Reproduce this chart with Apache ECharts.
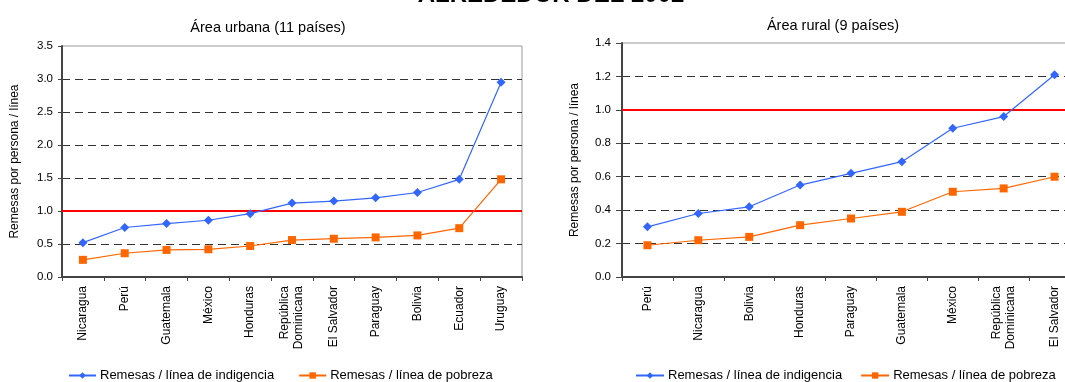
<!DOCTYPE html>
<html>
<head>
<meta charset="utf-8">
<script src="https://cdn.jsdelivr.net/npm/echarts@6/dist/echarts.min.js"></script>
<style>
html,body{margin:0;padding:0;background:#fff;overflow:hidden;}
#c{width:1080px;height:382px;}
</style>
</head>
<body>
<div id="c"></div>
<script>
var mainTitle = 'ALREDEDOR DEL 2002';
var urbanTitle = 'Área urbana (11 países)';
var ruralTitle = 'Área rural (9 países)';
var yName = 'Remesas por persona / línea';
var seriesNames = ['Remesas / línea de indigencia', 'Remesas / línea de pobreza'];

var urbanCats = ['Nicaragua', 'Perú', 'Guatemala', 'México', 'Honduras', 'República\nDominicana', 'El Salvador', 'Paraguay', 'Bolivia', 'Ecuador', 'Uruguay'];
var urbanIndig = [0.52, 0.75, 0.81, 0.86, 0.96, 1.12, 1.15, 1.20, 1.28, 1.48, 2.95];
var urbanPobreza = [0.26, 0.36, 0.41, 0.42, 0.47, 0.56, 0.58, 0.60, 0.63, 0.74, 1.48];

var ruralCats = ['Perú', 'Nicaragua', 'Bolivia', 'Honduras', 'Paraguay', 'Guatemala', 'México', 'República\nDominicana', 'El Salvador'];
var ruralIndig = [0.30, 0.38, 0.42, 0.55, 0.62, 0.69, 0.89, 0.96, 1.21];
var ruralPobreza = [0.19, 0.22, 0.24, 0.31, 0.35, 0.39, 0.51, 0.53, 0.60];

var urbanAxis = {min: 0, max: 3.5, interval: 0.5};
var ruralAxis = {min: 0, max: 1.4, interval: 0.2};
var threshold = 1.0;

var FONT = '"Liberation Sans", Arial, sans-serif';
var BLUE = '#3366ff';
var ORANGE = '#ff6600';

function gridColors(ax) {
  var cols = [];
  var n = Math.round((ax.max - ax.min) / ax.interval);
  for (var i = 0; i <= n; i++) {
    var v = ax.min + i * ax.interval;
    if (i === 0 || i === n || Math.abs(v - threshold) < 1e-9) cols.push('rgba(0,0,0,0)');
    else cols.push('#333');
  }
  return cols;
}

function yAxisDef(gi, ax, tickLen, margin) {
  return {
    type: 'value', gridIndex: gi, min: ax.min, max: ax.max, interval: ax.interval,
    name: yName, nameLocation: 'middle', nameGap: 41, nameRotate: 90,
    nameTextStyle: {fontFamily: FONT, fontSize: 12, color: '#000'},
    axisLine: {show: true, lineStyle: {color: '#444', width: 2}},
    axisTick: {show: true, length: tickLen, lineStyle: {color: '#444', width: 1}},
    axisLabel: {fontFamily: FONT, fontSize: 11.5, color: '#000', margin: margin,
      formatter: function (v) { return v.toFixed(1); }},
    splitLine: {show: true, lineStyle: {color: gridColors(ax), type: [8, 5], width: 1}}
  };
}

function xAxisDef(gi, cats) {
  return {
    type: 'category', gridIndex: gi, data: cats, boundaryGap: true,
    axisLine: {show: true, lineStyle: {color: '#444', width: 2}},
    axisTick: {show: true, length: 4, alignWithLabel: false, lineStyle: {color: '#444', width: 1}},
    axisLabel: {rotate: 90, interval: 0, fontFamily: FONT, fontSize: 12, color: '#000', margin: 9, lineHeight: 14}
  };
}

function lineSeries(name, gi, data, color, symbol, size, withMark) {
  var s = {
    name: name, type: 'line', xAxisIndex: gi, yAxisIndex: gi, data: data,
    symbol: symbol, symbolSize: size, showAllSymbol: true,
    lineStyle: {color: color, width: 1.2},
    itemStyle: {color: color},
    animation: false, z: 5
  };
  if (withMark) {
    s.markLine = {
      silent: true, symbol: 'none', label: {show: false},
      lineStyle: {color: '#ff0000', width: 2, type: 'solid'},
      data: [{yAxis: threshold}], animation: false
    };
  }
  return s;
}

var chart = echarts.init(document.getElementById('c'), null, {renderer: 'canvas'});
chart.setOption({
  backgroundColor: '#fff',
  animation: false,
  graphic: [{
    type: 'text', x: 551, y: -5,
    style: {text: mainTitle, font: 'bold 24px ' + FONT, fill: '#000', textAlign: 'center', textVerticalAlign: 'middle'}
  }],
  title: [
    {text: urbanTitle, left: 263, top: 15, textAlign: 'center', textStyle: {fontFamily: FONT, fontSize: 14.5, fontWeight: 'normal', color: '#000'}},
    {text: ruralTitle, left: 828, top: 13, textAlign: 'center', textStyle: {fontFamily: FONT, fontSize: 14.5, fontWeight: 'normal', color: '#000'}}
  ],
  legend: [
    {left: 63, top: 364, itemWidth: 27, itemHeight: 8, itemGap: 24, data: seriesNames,
      textStyle: {fontFamily: FONT, fontSize: 13, color: '#000', padding: [0, 0, 0, -1]}, selectedMode: false},
    {left: 630, top: 364, itemWidth: 28, itemHeight: 8, itemGap: 18, data: seriesNames,
      textStyle: {fontFamily: FONT, fontSize: 13, color: '#000', padding: [0, 0, 0, -1]}, selectedMode: false}
  ],
  grid: [
    {left: 62, width: 460, top: 46, bottom: 105, show: true, borderColor: '#999', borderWidth: 1, backgroundColor: 'transparent', containLabel: false},
    {left: 622, right: 0, top: 43, bottom: 105, show: true, borderColor: '#999', borderWidth: 1, backgroundColor: 'transparent', containLabel: false}
  ],
  xAxis: [xAxisDef(0, urbanCats), xAxisDef(1, ruralCats)],
  yAxis: [yAxisDef(0, urbanAxis, 4, 9), yAxisDef(1, ruralAxis, 6, 11)],
  series: [
    lineSeries(seriesNames[0], 0, urbanIndig, BLUE, 'diamond', 9, true),
    lineSeries(seriesNames[1], 0, urbanPobreza, ORANGE, 'rect', 8, false),
    lineSeries(seriesNames[0], 1, ruralIndig, BLUE, 'diamond', 9, true),
    lineSeries(seriesNames[1], 1, ruralPobreza, ORANGE, 'rect', 8, false)
  ]
});
</script>
</body>
</html>
